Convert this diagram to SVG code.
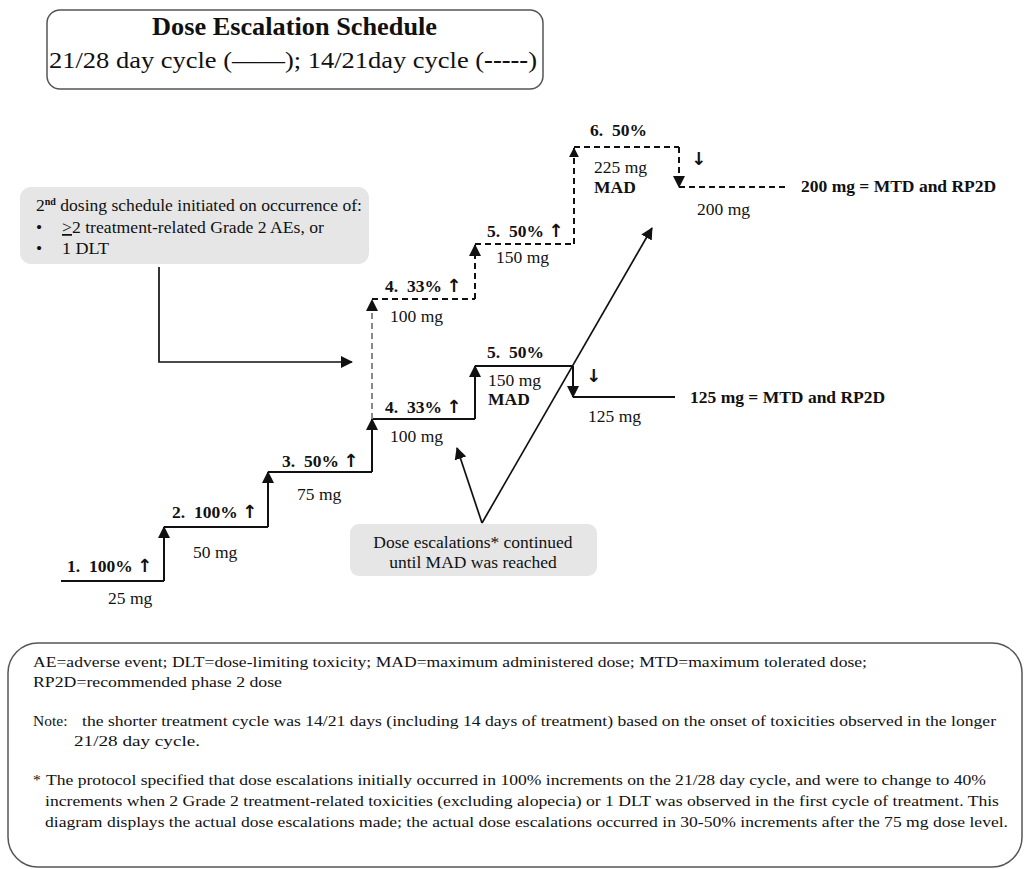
<svg xmlns="http://www.w3.org/2000/svg" width="1024" height="869" viewBox="0 0 1024 869">
<style>
text{font-family:"Times New Roman","Liberation Serif","Tinos","DejaVu Serif",serif;fill:#111;white-space:pre}
.t{font-size:17.5px}
.b{font-size:17.5px;font-weight:bold}
.f{font-size:15.5px}
.ar{font-family:"DejaVu Sans",sans-serif;font-weight:bold;font-size:18px}
.step{fill:none;stroke:#111;stroke-width:2}
.dash{fill:none;stroke:#111;stroke-width:2;stroke-dasharray:6 4}
.gdash{fill:none;stroke:#888;stroke-width:2;stroke-dasharray:6 4}
.ln{fill:none;stroke:#111;stroke-width:1.7}
.box{fill:#e6e6e6;stroke:none}
</style>
<defs>
<marker id="ah" viewBox="0 0 12 12" refX="11" refY="6" markerWidth="12" markerHeight="12" markerUnits="userSpaceOnUse" orient="auto">
<path d="M0,0 L12,6 L0,12 Z" fill="#111"/>
</marker>
<marker id="ahs" viewBox="0 0 12 12" refX="11" refY="6" markerWidth="10" markerHeight="10" markerUnits="userSpaceOnUse" orient="auto">
<path d="M0,0 L12,6 L0,12 Z" fill="#111"/>
</marker>
</defs>
<rect width="1024" height="869" fill="#fff"/>

<g id="title">
<rect x="47" y="10" width="496" height="79" rx="13" fill="#fff" stroke="#555" stroke-width="1.5"/>
<text x="152" y="35" font-size="25" font-weight="bold" textLength="285" lengthAdjust="spacingAndGlyphs">Dose Escalation Schedule</text>
<text x="49" y="68" font-size="24" textLength="488" lengthAdjust="spacingAndGlyphs">21/28 day cycle (——); 14/21day cycle (<tspan font-weight="bold">-----</tspan>)</text>
</g>

<g id="trigger-box">
<rect class="box" x="20" y="187" width="349" height="77" rx="11"/>
<text class="t" x="36" y="211" textLength="326" lengthAdjust="spacingAndGlyphs">2<tspan font-size="10" font-weight="bold" dy="-6">nd</tspan><tspan dy="6"> dosing schedule initiated on occurrence of:</tspan></text>
<text class="t" x="36" y="233">•</text>
<text class="t" x="62" y="233" textLength="262" lengthAdjust="spacingAndGlyphs"><tspan text-decoration="underline">&gt;</tspan>2 treatment-related Grade 2 AEs, or</text>
<text class="t" x="36" y="254">•</text>
<text class="t" x="62" y="254" textLength="47" lengthAdjust="spacingAndGlyphs">1 DLT</text>
</g>

<g id="note-box">
<rect class="box" x="350" y="524" width="247" height="52" rx="9"/>
<text class="t" x="473" y="548" text-anchor="middle">Dose escalations* continued</text>
<text class="t" x="473" y="568" text-anchor="middle">until MAD was reached</text>
</g>

<g id="connectors">
<path class="ln" d="M159,267 V362 H352" marker-end="url(#ah)"/>
<path class="ln" d="M482,523 L457,448" marker-end="url(#ah)"/>
<path class="ln" d="M482,523 L652,228" marker-end="url(#ah)"/>
</g>

<g id="schedule-21-28">
<path class="step" d="M61,581 H164"/>
<path class="step" d="M164,581 V527" marker-end="url(#ah)"/>
<path class="step" d="M164,527 H268"/>
<path class="step" d="M268,527 V472" marker-end="url(#ah)"/>
<path class="step" d="M268,472 H372"/>
<path class="step" d="M372,472 V419" marker-end="url(#ah)"/>
<path class="step" d="M372,419 H475"/>
<path class="step" d="M475,419 V366" marker-end="url(#ah)"/>
<path class="step" d="M475,366 H573"/>
<path class="step" d="M573,366 V397" marker-end="url(#ah)"/>
<path class="step" d="M573,397 H675"/>
</g>

<g id="schedule-14-21">
<path class="gdash" d="M372,419 V300" marker-end="url(#ah)"/>
<path class="dash" d="M372,299 H475" stroke="#333"/>
<path class="dash" d="M475,299 V245" marker-end="url(#ah)"/>
<path class="dash" d="M475,244 H574"/>
<path class="dash" d="M574,244 V148" marker-end="url(#ahs)"/>
<path class="dash" d="M574,147 H679"/>
<path class="dash" d="M679,147 V187" marker-end="url(#ah)"/>
<path class="dash" d="M679,187 H786"/>
</g>

<g id="labels-21-28">
<text class="b" x="67" y="572">1.  100% <tspan class="ar">↑</tspan></text>
<text class="t" x="108" y="604">25 mg</text>
<text class="b" x="172" y="518">2.  100% <tspan class="ar">↑</tspan></text>
<text class="t" x="193" y="558">50 mg</text>
<text class="b" x="282" y="467">3.  50% <tspan class="ar">↑</tspan></text>
<text class="t" x="297" y="500">75 mg</text>
<text class="b" x="385" y="413">4.  33% <tspan class="ar">↑</tspan></text>
<text class="t" x="390" y="442">100 mg</text>
<text class="b" x="487" y="358">5.  50%</text>
<text class="t" x="488" y="386">150 mg</text>
<text class="b" x="488" y="405">MAD</text>
<text class="ar" x="586" y="382">↓</text>
<text class="t" x="588" y="422">125 mg</text>
<text class="b" x="690" y="403">125 mg = MTD and RP2D</text>
</g>

<g id="labels-14-21">
<text class="b" x="385" y="292">4.  33% <tspan class="ar">↑</tspan></text>
<text class="t" x="390" y="322">100 mg</text>
<text class="b" x="487" y="237">5.  50% <tspan class="ar">↑</tspan></text>
<text class="t" x="496" y="263">150 mg</text>
<text class="b" x="590" y="136">6.  50%</text>
<text class="t" x="594" y="173">225 mg</text>
<text class="b" x="594" y="193">MAD</text>
<text class="ar" x="691" y="165">↓</text>
<text class="t" x="697" y="215">200 mg</text>
<text class="b" x="801" y="192">200 mg = MTD and RP2D</text>
</g>

<g id="footnotes">
<rect x="8" y="643" width="1014" height="224" rx="30" fill="none" stroke="#555" stroke-width="1.5"/>
<text class="f" x="33" y="667" textLength="834" lengthAdjust="spacingAndGlyphs">AE=adverse event; DLT=dose-limiting toxicity; MAD=maximum administered dose; MTD=maximum tolerated dose;</text>
<text class="f" x="33" y="687" textLength="249" lengthAdjust="spacingAndGlyphs">RP2D=recommended phase 2 dose</text>
<text class="f" x="33" y="726">Note:</text>
<text class="f" x="82" y="726" textLength="914" lengthAdjust="spacingAndGlyphs">the shorter treatment cycle was 14/21 days (including 14 days of treatment) based on the onset of toxicities observed in the longer</text>
<text class="f" x="74" y="746" textLength="126" lengthAdjust="spacingAndGlyphs">21/28 day cycle.</text>
<text class="f" x="33" y="785">*</text>
<text class="f" x="46" y="785" textLength="940" lengthAdjust="spacingAndGlyphs">The protocol specified that dose escalations initially occurred in 100% increments on the 21/28 day cycle, and were to change to 40%</text>
<text class="f" x="45" y="806" textLength="954" lengthAdjust="spacingAndGlyphs">increments when 2 Grade 2 treatment-related toxicities (excluding alopecia) or 1 DLT was observed in the first cycle of treatment. This</text>
<text class="f" x="45" y="827" textLength="963" lengthAdjust="spacingAndGlyphs">diagram displays the actual dose escalations made; the actual dose escalations occurred in 30-50% increments after the 75 mg dose level.</text>
</g>
</svg>
